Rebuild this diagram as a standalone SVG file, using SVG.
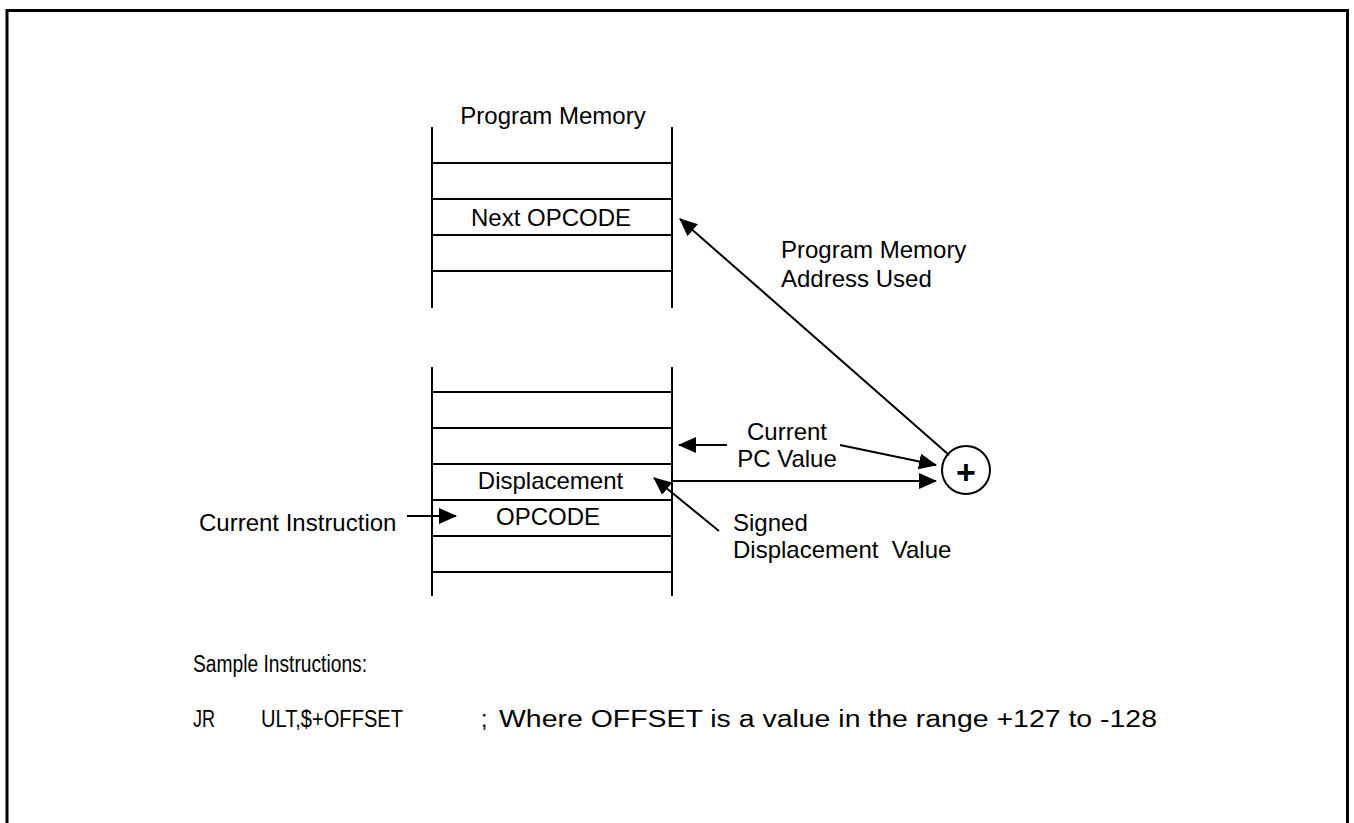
<svg xmlns="http://www.w3.org/2000/svg" width="1354" height="823" viewBox="0 0 1354 823">
  <style>
    text { font-family: "Liberation Sans", Arial, sans-serif; font-size: 24px; fill: #000; }
    .mid { text-anchor: middle; }
    .mem line { stroke: #000; stroke-width: 2; }
    .conn line { stroke: #000; stroke-width: 2; marker-end: url(#ah); }
    .pre { white-space: pre; }
    .bot { font-size: 23px; }
  </style>
  <defs>
    <marker id="ah" markerUnits="userSpaceOnUse" markerWidth="18" markerHeight="16" viewBox="0 0 18 16" refX="17" refY="8" orient="auto">
      <path d="M0,0 L18,8 L0,16 z" fill="#000"/>
    </marker>
  </defs>
  <rect width="1354" height="823" fill="#fff"/>
  <rect x="7" y="10.5" width="1340.5" height="900" fill="none" stroke="#000" stroke-width="3"/>

  <g id="program-memory-top" class="mem">
    <text class="mid" x="553" y="124">Program Memory</text>
    <line x1="432" y1="127" x2="432" y2="308"/>
    <line x1="672" y1="127" x2="672" y2="308"/>
    <line x1="432" y1="163" x2="672" y2="163"/>
    <line x1="432" y1="199" x2="672" y2="199"/>
    <line x1="432" y1="235" x2="672" y2="235"/>
    <line x1="432" y1="271" x2="672" y2="271"/>
    <text class="mid" x="551" y="226">Next OPCODE</text>
  </g>

  <g id="program-memory-bottom" class="mem">
    <line x1="432" y1="367" x2="432" y2="596"/>
    <line x1="672" y1="367" x2="672" y2="596"/>
    <line x1="432" y1="392" x2="672" y2="392"/>
    <line x1="432" y1="428" x2="672" y2="428"/>
    <line x1="432" y1="464" x2="672" y2="464"/>
    <line x1="432" y1="500" x2="672" y2="500"/>
    <line x1="432" y1="536" x2="672" y2="536"/>
    <line x1="432" y1="572" x2="672" y2="572"/>
    <text class="mid" x="550.5" y="489">Displacement</text>
    <text class="mid" x="548" y="525">OPCODE</text>
  </g>

  <g id="adder">
    <circle cx="966" cy="470" r="24" fill="#fff" stroke="#000" stroke-width="2"/>
    <text class="mid" x="966" y="484" style="font-weight:bold;font-size:34px">+</text>
  </g>

  <g id="label-current-instruction">
    <text x="199" y="531">Current Instruction</text>
  </g>
  <g id="label-current-pc">
    <text class="mid" x="787" y="440">Current</text>
    <text class="mid" x="787" y="467">PC Value</text>
  </g>
  <g id="label-address-used">
    <text x="781" y="258">Program Memory</text>
    <text x="781" y="287">Address Used</text>
  </g>
  <g id="label-signed">
    <text x="733" y="531">Signed</text>
    <text class="pre" x="733" y="558" xml:space="preserve">Displacement  Value</text>
  </g>

  <g id="connectors" class="conn">
    <line x1="949" y1="455" x2="680" y2="219"/>
    <line x1="727" y1="445" x2="679" y2="445"/>
    <line x1="840" y1="445" x2="936" y2="465"/>
    <line x1="672" y1="481" x2="936" y2="481"/>
    <line x1="719" y1="531" x2="654" y2="478"/>
    <line x1="407" y1="516" x2="456" y2="516"/>
  </g>

  <g id="sample-instructions">
    <text class="bot" x="193" y="672" textLength="174" lengthAdjust="spacingAndGlyphs">Sample Instructions:</text>
    <text class="bot" x="193" y="727" textLength="22" lengthAdjust="spacingAndGlyphs">JR</text>
    <text class="bot" x="261" y="727" textLength="142" lengthAdjust="spacingAndGlyphs">ULT,$+OFFSET</text>
    <text class="bot" x="481" y="727">;</text>
    <text class="bot" x="499" y="727" textLength="658" lengthAdjust="spacingAndGlyphs">Where OFFSET is a value in the range +127 to -128</text>
  </g>
</svg>
